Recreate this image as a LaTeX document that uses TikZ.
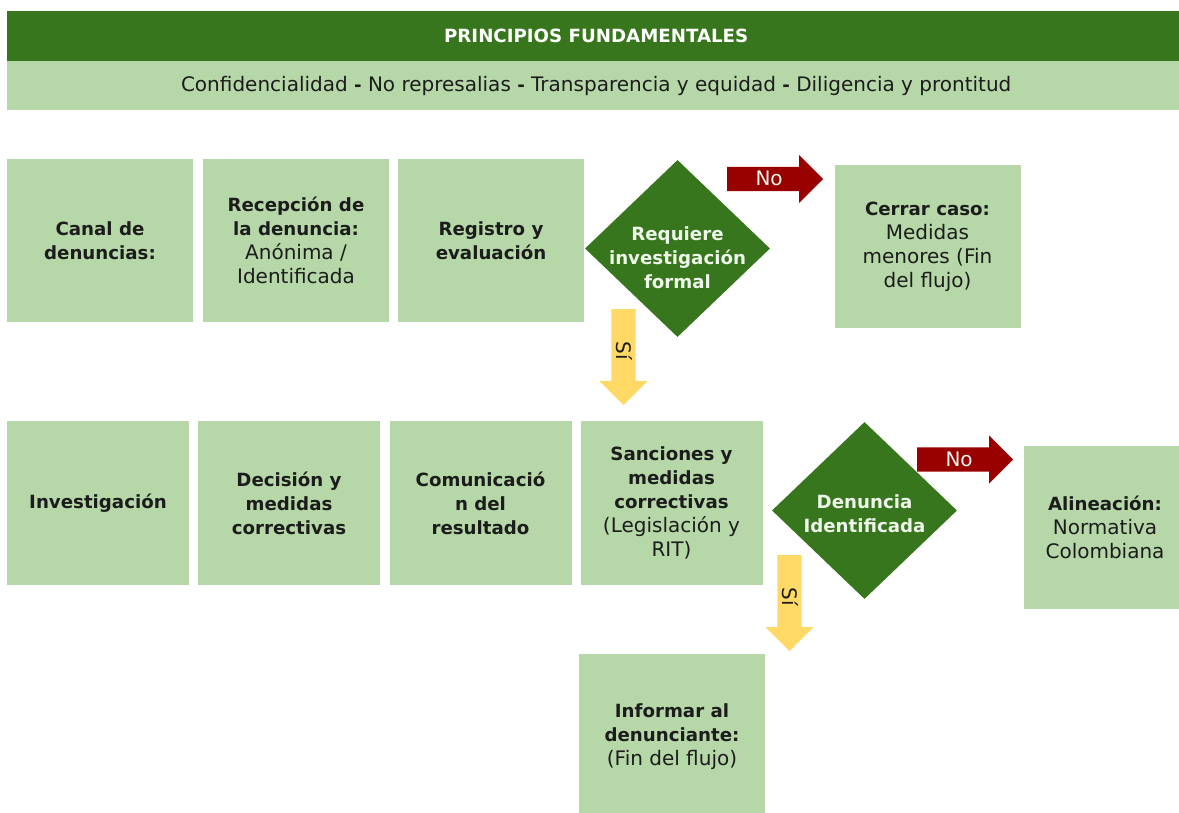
\documentclass[tikz,border=0pt]{standalone}
\usepackage{fontspec}
\setmainfont{DejaVu Sans}[BoldFeatures={Scale=0.91}]
\usetikzlibrary{shapes.geometric,shapes.arrows}
\definecolor{darkgreen}{HTML}{38761D}
\definecolor{lightgreen}{HTML}{B6D7A8}
\definecolor{darkred}{HTML}{990000}
\definecolor{lightyellow}{HTML}{FFD966}
\definecolor{inktext}{HTML}{1C1C1C}
\definecolor{palegreen}{HTML}{EEF5EA}
\begin{document}
\begin{tikzpicture}[x=1pt,y=-1pt,
    txt/.style={font=\fontsize{20}{24}\selectfont},
    box/.style={txt,rectangle,fill=lightgreen,inner sep=0pt,align=center,text=inktext},
    rowa/.style={box,minimum width=186pt,minimum height=163pt},
    rowb/.style={box,minimum width=182pt,minimum height=164pt},
    decision/.style={diamond,fill=darkgreen,inner sep=0pt,minimum width=185pt,minimum height=177pt},
    dectext/.style={txt,align=center,text=palegreen,font=\fontsize{20}{24}\selectfont\bfseries},
    blockarrow/.style={txt,single arrow,single arrow head extend=12pt,inner xsep=0pt,inner ysep=5pt,
      text height=14pt,text depth=0pt,minimum height=96pt,anchor=tail},
    noarrow/.style={blockarrow,fill=darkred,text=palegreen},
    siarrow/.style={blockarrow,fill=lightyellow,text=inktext,rotate=-90}]
  \useasboundingbox (0,0) rectangle (1179,813);

  \node[rectangle,fill=darkgreen,text=white,minimum width=1178pt,minimum height=50pt,
    anchor=north west,txt,font=\fontsize{20}{24}\selectfont\bfseries] (title) at (7,11)
    {PRINCIPIOS FUNDAMENTALES};
  \node[box,minimum width=1178pt,minimum height=49pt,anchor=north west] (principles) at (7,61)
    {Confidencialidad \textbf{-} No represalias \textbf{-} Transparencia y equidad \textbf{-} Diligencia y prontitud};

  % first row
  \node[rowa] (canal) at (100,240.5) {\textbf{Canal de}\\\textbf{denuncias:}};
  \node[rowa] (recepcion) at (296,240.5) {\textbf{Recepción de}\\\textbf{la denuncia:}\\Anónima /\\Identificada};
  \node[rowa] (registro) at (491,240.5) {\textbf{Registro y}\\\textbf{evaluación}};
  \node[decision] (requiere) at (677.5,248.5) {};
  \node[dectext] (requieretext) at (677.5,258) {Requiere\\investigación\\formal};
  \node[rowa] (cerrar) at (927.5,246.5) {\textbf{Cerrar caso:}\\Medidas\\menores (Fin\\del flujo)};
  \node[noarrow] (no1) at (727,179) {No};
  \node[siarrow] (si1) at (623.5,309) {Sí};

  % second row
  \node[rowb] (investigacion) at (98,503) {\textbf{Investigación}};
  \node[rowb] (decision) at (289,503) {\textbf{Decisión y}\\\textbf{medidas}\\\textbf{correctivas}};
  \node[rowb] (comunicacion) at (480.5,503) {\textbf{Comunicació}\\\textbf{n del}\\\textbf{resultado}};
  \node[rowb] (sanciones) at (671.5,503) {\textbf{Sanciones y}\\\textbf{medidas}\\\textbf{correctivas}\\(Legislación y\\RIT)};
  \node[decision] (identificada) at (864.5,510.5) {};
  \node[dectext] (identificadatext) at (864.5,514) {Denuncia\\Identificada};
  \node[box,minimum width=162pt,minimum height=163pt] (alineacion) at (1105,527.5)
    {\textbf{Alineación:}\\Normativa\\Colombiana};
  \node[noarrow] (no2) at (917,459.5) {No};
  \node[siarrow] (si2) at (789.5,555) {Sí};
  \node[box,minimum width=186pt,minimum height=166pt] (informar) at (672,737)
    {\textbf{Informar al}\\\textbf{denunciante:}\\(Fin del flujo)};
\end{tikzpicture}
\end{document}
